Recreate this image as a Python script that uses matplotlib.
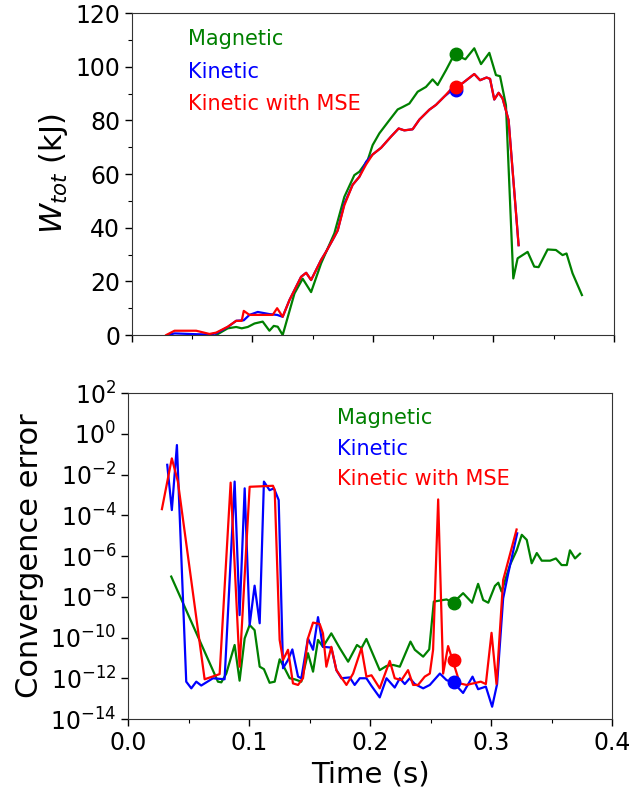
import matplotlib
matplotlib.use("Agg")
import matplotlib.pyplot as plt
from matplotlib.ticker import MultipleLocator, FixedLocator, NullLocator

# --- stored energy W_tot (kJ) ---
t_mag_w = [0.0699, 0.0795, 0.0865, 0.0911, 0.0961, 0.1017, 0.1085, 0.1141, 0.1177, 0.1210,
           0.1251, 0.1349, 0.1417, 0.1487, 0.1570, 0.1680, 0.1763, 0.1846, 0.1888, 0.1957,
           0.1998, 0.2054, 0.2137, 0.2206, 0.2247, 0.2303, 0.2372, 0.2441, 0.2496, 0.2538,
           0.2608, 0.2676, 0.2768, 0.2842, 0.2898, 0.2967, 0.3022, 0.3056, 0.3105, 0.3166,
           0.3202, 0.3285, 0.3340, 0.3376, 0.3451, 0.3520, 0.3575, 0.3608, 0.3658, 0.3736]
w_mag = [0.0, 2.5, 3.0, 2.5, 3.0, 4.3, 5.0, 1.6, 3.4, 3.1,
         0.0, 15.5, 21.0, 16.0, 26.7, 37.9, 51.5, 59.6, 60.9, 65.2,
         70.8, 75.2, 80.1, 84.1, 85.0, 86.3, 90.7, 92.5, 95.3, 93.2,
         98.8, 104.6, 102.8, 106.9, 101.0, 105.2, 96.9, 96.5, 85.7, 21.1,
         28.6, 31.0, 25.5, 25.3, 31.9, 31.7, 29.8, 30.4, 23.0, 14.9]

t_kin_w = [0.0297, 0.0353, 0.0533, 0.0643, 0.0699, 0.0795, 0.0865, 0.0928, 0.0975, 0.1044,
           0.1141, 0.1205, 0.1251, 0.1307, 0.1404, 0.1446, 0.1487, 0.1570, 0.1612, 0.1680,
           0.1708, 0.1763, 0.1832, 0.1888, 0.1944, 0.1998, 0.2068, 0.2151, 0.2214, 0.2261,
           0.2330, 0.2386, 0.2469, 0.2524, 0.2593, 0.2649, 0.2745, 0.2842, 0.2890, 0.2944,
           0.2973, 0.3008, 0.3044, 0.3077, 0.3127, 0.3160, 0.3210]
w_kin = [0.0, 0.6, 0.3, 0.2, 0.6, 3.0, 5.3, 5.5, 7.5, 8.6,
         7.8, 7.5, 6.8, 13.0, 21.7, 23.2, 20.5, 28.0, 31.1, 36.6,
         39.0, 49.0, 56.0, 59.0, 64.6, 67.3, 69.8, 74.0, 77.0, 76.3,
         76.7, 80.3, 84.0, 85.8, 88.9, 91.0, 93.9, 97.3, 95.0, 96.0,
         95.5, 87.8, 90.3, 88.2, 80.1, 61.5, 33.5]

t_mse_w = [0.0284, 0.0353, 0.0533, 0.0643, 0.0699, 0.0795, 0.0865, 0.0911, 0.0928, 0.0975,
           0.1044, 0.1141, 0.1168, 0.1205, 0.1251, 0.1307, 0.1404, 0.1446, 0.1487, 0.1570,
           0.1612, 0.1680, 0.1708, 0.1763, 0.1832, 0.1888, 0.1944, 0.1998, 0.2068, 0.2151,
           0.2214, 0.2261, 0.2330, 0.2386, 0.2469, 0.2524, 0.2593, 0.2649, 0.2745, 0.2842,
           0.2890, 0.2944, 0.2973, 0.3008, 0.3044, 0.3077, 0.3127, 0.3160, 0.3210]
w_mse = [0.0, 1.6, 1.6, 0.4, 0.9, 3.1, 5.3, 5.3, 9.0, 7.5,
         7.5, 7.5, 7.5, 10.0, 6.8, 13.0, 21.7, 23.2, 20.5, 28.0,
         31.1, 36.6, 39.0, 48.4, 56.0, 59.0, 63.6, 67.3, 69.8, 74.0,
         77.0, 76.3, 76.7, 80.3, 84.0, 85.8, 88.9, 91.7, 93.9, 97.3,
         95.0, 96.0, 95.5, 87.8, 90.3, 88.2, 80.1, 61.5, 33.5]

# --- convergence error ---
t_mag_e = [0.0357, 0.0743, 0.0771, 0.0812, 0.0881, 0.0922, 0.0964, 0.1005, 0.1046, 0.1088,
           0.1123, 0.1170, 0.1212, 0.1253, 0.1294, 0.1336, 0.1377, 0.1432, 0.1487, 0.1529,
           0.1570, 0.1611, 0.1680, 0.1750, 0.1819, 0.1892, 0.1929, 0.1970, 0.2012, 0.2080,
           0.2136, 0.2191, 0.2246, 0.2334, 0.2370, 0.2439, 0.2489, 0.2527, 0.2632, 0.2687,
           0.2769, 0.2843, 0.2893, 0.2935, 0.2977, 0.3032, 0.3060, 0.3087, 0.3156, 0.3212,
           0.3254, 0.3295, 0.3336, 0.3378, 0.3419, 0.3488, 0.3536, 0.3583, 0.3626, 0.3652,
           0.3694, 0.3735]
err_mag = [9.8e-8, 6.8e-13, 6.3e-13, 1.7e-12, 4.3e-11, 7.6e-13, 9.1e-11, 4.1e-10, 2.3e-10, 3.7e-12,
           2.8e-12, 6.0e-13, 6.8e-13, 8.5e-12, 3.1e-12, 1.0e-12, 8.9e-13, 6.8e-13, 1.7e-11, 2.1e-12,
           7.6e-11, 3.5e-11, 1.6e-10, 3.0e-11, 6.5e-12, 4.3e-11, 3.0e-11, 8.5e-11, 2.2e-11, 2.5e-12,
           4.0e-12, 4.5e-12, 3.7e-12, 6.3e-11, 2.5e-11, 1.15e-11, 2.6e-11, 5.8e-9, 7.4e-9, 5.1e-9,
           1.5e-8, 5.1e-9, 4.3e-8, 6.9e-9, 5.1e-9, 3.4e-8, 4.9e-8, 1.8e-8, 3.6e-7, 1.9e-6,
           1.1e-5, 6.2e-6, 4.4e-7, 1.4e-6, 5.9e-7, 5.9e-7, 7.6e-7, 3.6e-7, 3.6e-7, 1.9e-6,
           7.6e-7, 1.3e-6]

t_kin_e = [0.0324, 0.0362, 0.0404, 0.0481, 0.0523, 0.0564, 0.0605, 0.0702, 0.0798, 0.0881,
           0.0922, 0.0964, 0.1005, 0.1046, 0.1088, 0.1123, 0.1170, 0.1206, 0.1245, 0.1281,
           0.1322, 0.1358, 0.1405, 0.1432, 0.1487, 0.1529, 0.1570, 0.1611, 0.1680, 0.1722,
           0.1763, 0.1832, 0.1873, 0.1915, 0.1970, 0.2012, 0.2080, 0.2136, 0.2204, 0.2246,
           0.2287, 0.2328, 0.2370, 0.2439, 0.2494, 0.2577, 0.2632, 0.2687, 0.2769, 0.2847,
           0.2893, 0.2957, 0.3009, 0.3050, 0.3100, 0.3142, 0.3216]
err_kin = [3.0e-2, 1.8e-4, 2.8e-1, 6.8e-13, 3.2e-13, 6.8e-13, 4.4e-13, 1.0e-12, 8.9e-13, 4.5e-3,
           1.26e-9, 2.1e-3, 4.1e-10, 3.5e-8, 5.0e-10, 4.5e-3, 1.7e-3, 2.1e-3, 5.6e-4, 3.1e-12,
           7.9e-12, 2.6e-11, 1.2e-12, 1.0e-12, 9.1e-11, 2.5e-11, 1.0e-9, 3.5e-11, 3.2e-11, 2.5e-12,
           1.0e-12, 1.1e-12, 4.7e-13, 1.0e-12, 1.0e-12, 4.2e-13, 1.15e-13, 1.0e-12, 3.5e-13, 1.0e-12,
           5.2e-13, 1.0e-12, 5.2e-13, 3.2e-13, 4.7e-13, 1.7e-12, 8.1e-13, 6.3e-13, 1.9e-13, 1.2e-12,
           2.9e-13, 3.9e-13, 4.0e-14, 5.2e-13, 8.3e-9, 1.4e-7, 1.3e-5]

t_mse_e = [0.0280, 0.0362, 0.0412, 0.0633, 0.0757, 0.0848, 0.0922, 0.1005, 0.1198, 0.1212,
           0.1253, 0.1281, 0.1322, 0.1363, 0.1405, 0.1446, 0.1487, 0.1529, 0.1584, 0.1611,
           0.1639, 0.1680, 0.1722, 0.1805, 0.1860, 0.1929, 0.1970, 0.2012, 0.2080, 0.2163,
           0.2204, 0.2260, 0.2314, 0.2356, 0.2397, 0.2452, 0.2494, 0.2521, 0.2563, 0.2604,
           0.2645, 0.2673, 0.2742, 0.2797, 0.2915, 0.2957, 0.3004, 0.3045, 0.3100, 0.3211]
err_mse = [2.0e-4, 6.2e-2, 4.5e-3, 8.9e-13, 1.6e-12, 4.0e-3, 3.7e-12, 2.5e-3, 2.8e-3, 1.7e-3,
           7.6e-11, 7.9e-12, 2.5e-11, 5.6e-13, 4.7e-13, 1.0e-12, 9.1e-11, 5.4e-10, 4.6e-10, 1.6e-10,
           3.7e-12, 3.5e-11, 2.5e-12, 4.7e-13, 1.7e-12, 3.0e-11, 1.2e-12, 1.4e-12, 3.2e-13, 7.1e-12,
           1.0e-12, 8.1e-13, 2.5e-12, 4.7e-13, 4.7e-13, 1.2e-12, 1.7e-12, 2.5e-11, 6.0e-4, 1.7e-12,
           3.8e-11, 1.15e-11, 5.6e-13, 4.7e-13, 6.8e-13, 5.2e-13, 1.7e-10, 5.2e-13, 6.6e-8, 2.0e-5]

# highlighted time step
t_mark = 0.269
w_mark = {"mag": 104.6, "kin": 91.3, "mse": 92.5}
err_mark = {"mag": 5.1e-9, "kin": 6.3e-13, "mse": 7.9e-12}

labels = ["Magnetic", "Kinetic", "Kinetic with MSE"]
colors = ["g", "b", "r"]

fig = plt.figure(figsize=(6.44, 7.87), dpi=100)
ax1 = fig.add_axes([0.205, 0.5743, 0.748, 0.409])
ax2 = fig.add_axes([0.1988, 0.0864, 0.7516, 0.4142])

lw = 1.6
ax1.plot(t_mag_w, w_mag, color="g", lw=lw)
ax1.plot(t_kin_w, w_kin, color="b", lw=lw)
ax1.plot(t_mse_w, w_mse, color="r", lw=lw)
ax1.plot(t_mark, w_mark["mag"], "o", color="g", ms=9)
ax1.plot(t_mark, w_mark["kin"], "o", color="b", ms=9)
ax1.plot(t_mark, w_mark["mse"], "o", color="r", ms=9)

ax2.semilogy(t_mag_e, err_mag, color="g", lw=lw)
ax2.semilogy(t_kin_e, err_kin, color="b", lw=lw)
ax2.semilogy(t_mse_e, err_mse, color="r", lw=lw)
ax2.plot(t_mark, err_mark["mag"], "o", color="g", ms=9)
ax2.plot(t_mark, err_mark["kin"], "o", color="b", ms=9)
ax2.plot(t_mark, err_mark["mse"], "o", color="r", ms=9)

# Aesthetics
ax1.set_xlim(0, 0.4)
ax1.set_ylim(0, 120)
ax1.xaxis.set_major_locator(MultipleLocator(0.1))
ax1.xaxis.set_minor_locator(MultipleLocator(0.05))
ax1.yaxis.set_major_locator(MultipleLocator(20))
ax1.yaxis.set_minor_locator(MultipleLocator(10))
ax1.set_xticklabels([])
ax1.set_ylabel("$W_{tot}$ (kJ)", fontsize=22)

ax2.set_xlim(0, 0.4)
ax2.set_ylim(1e-14, 1e2)
ax2.xaxis.set_major_locator(MultipleLocator(0.1))
ax2.xaxis.set_minor_locator(MultipleLocator(0.05))
ax2.yaxis.set_major_locator(FixedLocator([10.0 ** k for k in range(-14, 3, 2)]))
ax2.yaxis.set_minor_locator(NullLocator())
ax2.set_xlabel("Time (s)", fontsize=21)
ax2.set_ylabel("Convergence error", fontsize=22)

for ax in (ax1, ax2):
    ax.tick_params(which="major", labelsize=17, length=5, width=1)
    ax.tick_params(which="minor", length=3, width=0.8)
    for sp in ax.spines.values():
        sp.set_color("#333333")

for i, (lab, c) in enumerate(zip(labels, colors)):
    ax1.text(0.116, 0.9006 - 0.1015 * i, lab, color=c, fontsize=15,
             transform=ax1.transAxes, va="baseline")
    ax2.text(0.432, 0.904 - 0.093 * i, lab, color=c, fontsize=15,
             transform=ax2.transAxes, va="baseline")

plt.savefig("out.png", dpi=100)
plt.close()
